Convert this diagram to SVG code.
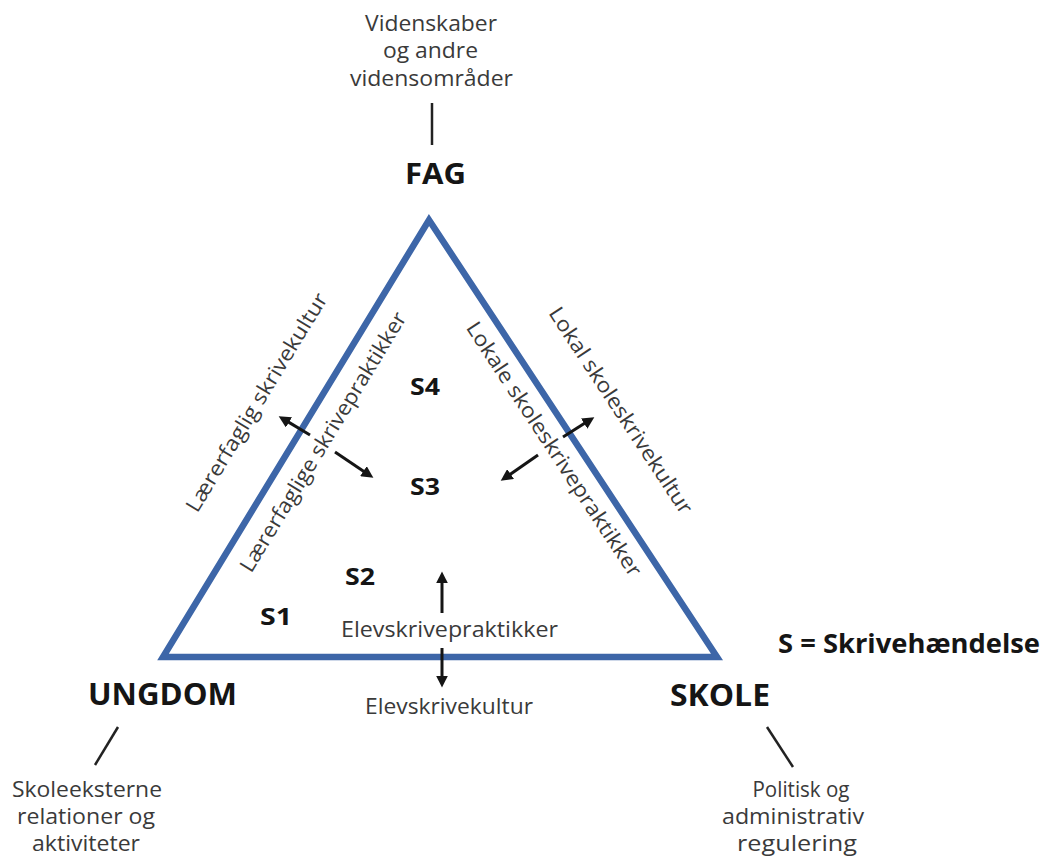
<svg xmlns="http://www.w3.org/2000/svg" width="1043" height="860" viewBox="0 0 1043 860">
  <style>
    .t { font-family: "Open Sans", "Liberation Sans", sans-serif; font-size: 21px; fill: #3a3a3a; }
    .b { font-family: "Open Sans", "Liberation Sans", sans-serif; font-weight: bold; fill: #151515; }
    .m { text-anchor: middle; }
    .tick { stroke: #222; stroke-width: 2.5; fill: none; }
    .arr { stroke: #151515; stroke-width: 3; fill: none; marker-end: url(#ah); }
    .tri { fill: none; stroke: #3d66a8; stroke-width: 6.5; stroke-linejoin: miter; }
  </style>
  <defs>
    <marker id="ah" markerUnits="userSpaceOnUse" markerWidth="12" markerHeight="12" viewBox="0 0 10 10" refX="2" refY="5" orient="auto">
      <path d="M0,0 L10,5 L0,10 z" fill="#151515"/>
    </marker>
  </defs>
  <rect width="1043" height="860" fill="#ffffff"/>

  <g id="triangle">
    <polygon class="tri" points="429,220 717,657 163,657"/>
  </g>

  <g id="fag">
    <text class="t m" x="431" y="31" textLength="132" lengthAdjust="spacingAndGlyphs">Videnskaber</text>
    <text class="t m" x="430.5" y="58" textLength="95" lengthAdjust="spacingAndGlyphs">og andre</text>
    <text class="t m" x="431.5" y="86" textLength="163" lengthAdjust="spacingAndGlyphs">vidensområder</text>
    <text class="b m" x="435.5" y="184" font-size="29" textLength="61" lengthAdjust="spacingAndGlyphs">FAG</text>
  </g>

  <g id="ungdom">
    <text class="b m" x="162.5" y="705" font-size="30" textLength="149" lengthAdjust="spacingAndGlyphs">UNGDOM</text>
    <text class="t m" x="87" y="797" textLength="150" lengthAdjust="spacingAndGlyphs">Skoleeksterne</text>
    <text class="t m" x="86" y="824" textLength="138" lengthAdjust="spacingAndGlyphs">relationer og</text>
    <text class="t m" x="86" y="851" textLength="108" lengthAdjust="spacingAndGlyphs">aktiviteter</text>
  </g>

  <g id="skole">
    <text class="b m" x="720" y="706" font-size="30" textLength="100" lengthAdjust="spacingAndGlyphs">SKOLE</text>
    <text class="t m" x="801" y="797" textLength="97" lengthAdjust="spacingAndGlyphs">Politisk og</text>
    <text class="t m" x="793" y="824" textLength="142" lengthAdjust="spacingAndGlyphs">administrativ</text>
    <text class="t m" x="797" y="851" textLength="120" lengthAdjust="spacingAndGlyphs">regulering</text>
  </g>

  <g id="legend">
    <text class="b" x="778" y="653" font-size="27" textLength="262" lengthAdjust="spacingAndGlyphs">S = Skrivehændelse</text>
  </g>

  <g id="edge-labels">
    <text class="t m" transform="translate(262.8,406) rotate(-58.67)" textLength="252" lengthAdjust="spacingAndGlyphs">Lærerfaglig skrivekultur</text>
    <text class="t m" transform="translate(329.3,445.6) rotate(-58.67)" textLength="300" lengthAdjust="spacingAndGlyphs">Lærerfaglige skrivepraktikker</text>
    <text class="t m" transform="translate(614.8,414.4) rotate(56.6)" textLength="243" lengthAdjust="spacingAndGlyphs">Lokal skoleskrivekultur</text>
    <text class="t m" transform="translate(548,453) rotate(56.6)" textLength="300" lengthAdjust="spacingAndGlyphs">Lokale skoleskrivepraktikker</text>
    <text class="t m" x="449.5" y="637" textLength="217" lengthAdjust="spacingAndGlyphs">Elevskrivepraktikker</text>
    <text class="t m" x="449" y="714" textLength="168" lengthAdjust="spacingAndGlyphs">Elevskrivekultur</text>
  </g>

  <g id="events">
    <text class="b m" id="s4" x="425" y="395" font-size="24" textLength="30" lengthAdjust="spacingAndGlyphs">S4</text>
    <text class="b m" id="s3" x="425" y="495" font-size="24" textLength="30" lengthAdjust="spacingAndGlyphs">S3</text>
    <text class="b m" id="s2" x="360" y="585" font-size="24" textLength="30" lengthAdjust="spacingAndGlyphs">S2</text>
    <text class="b m" id="s1" x="276" y="625" font-size="24" textLength="32" lengthAdjust="spacingAndGlyphs">S1</text>
  </g>

  <g id="connectors">
    <line class="tick" x1="432" y1="103" x2="432" y2="145"/>
    <line class="tick" x1="118" y1="727" x2="95" y2="765"/>
    <line class="tick" x1="767" y1="727" x2="793" y2="767"/>
    <line class="arr" x1="310" y1="435" x2="286.9" y2="421.1"/>
    <line class="arr" x1="335" y1="452" x2="365.4" y2="472.5"/>
    <line class="arr" x1="563" y1="437" x2="586.2" y2="422.3"/>
    <line class="arr" x1="538" y1="455" x2="508.6" y2="475.4"/>
    <line class="arr" x1="442" y1="613" x2="442" y2="581"/>
    <line class="arr" x1="442" y1="648" x2="442" y2="678"/>
  </g>
</svg>
